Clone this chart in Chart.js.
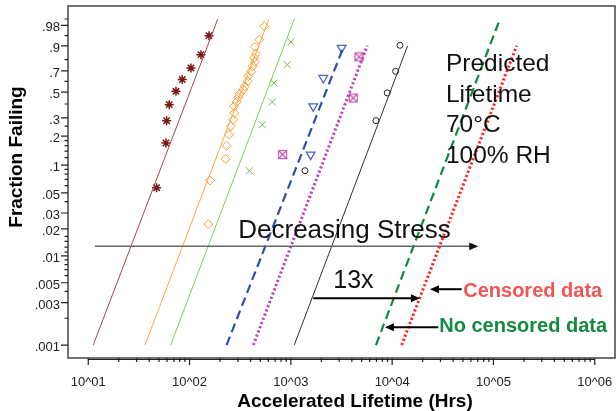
<!DOCTYPE html>
<html><head><meta charset="utf-8">
<script src="https://cdn.jsdelivr.net/npm/chart.js@4.4.1/dist/chart.umd.min.js"></script>
<style>html,body{margin:0;padding:0;background:#fff;}</style>
</head><body>
<canvas id="c" width="616" height="411"></canvas>
<script>
const FONT = "'Liberation Sans', Arial, sans-serif";

// ---- axis tick definitions ----
const yTickFractions = [0.001, 0.003, 0.005, 0.01, 0.02, 0.03, 0.05, 0.1, 0.2, 0.3, 0.5, 0.7, 0.9, 0.98];
const yTickLabels = ['.001', '.003', '.005', '.01', '.02', '.03', '.05', '.1', '.2', '.3', '.5', '.7', '.9', '.98'];
const yMinorFractions = [0.002, 0.004, 0.006, 0.007, 0.008, 0.009, 0.011, 0.0125, 0.0145, 0.0165, 0.04,
  0.06, 0.07, 0.08, 0.09, 0.12, 0.14, 0.16, 0.18, 0.25, 0.4, 0.6, 0.8, 0.95, 0.99];
const xTickExponents = [1, 2, 3, 4, 5, 6];
const xTickLabels = ['10^01', '10^02', '10^03', '10^04', '10^05', '10^06'];

// ---- test data (hours, fraction failing) ----
const s1Hours = [47.3, 58.5, 59.4, 63.0, 73.4, 84.7, 103.2, 129.6, 155.4];
const s1Frac  = [0.057, 0.170, 0.282, 0.395, 0.508, 0.618, 0.727, 0.840, 0.950];
const s2Hours = [153, 159, 227, 232, 245, 256, 270, 276, 276, 292, 303, 315, 339, 352, 375, 380, 404, 420, 442, 435, 452, 442, 488, 546];
const s2Frac  = [0.0226, 0.0683, 0.116, 0.159, 0.206, 0.249, 0.289, 0.333, 0.382, 0.417, 0.455, 0.487, 0.523, 0.554, 0.601, 0.649, 0.696, 0.742, 0.781, 0.815, 0.846, 0.894, 0.933, 0.978];
const s3Hours = [389, 522, 655, 681, 921, 1002];
const s3Frac  = [0.087, 0.259, 0.417, 0.586, 0.757, 0.922];
const s4Hours = [1568, 1664, 2089, 3172];
const s4Frac  = [0.129, 0.382, 0.633, 0.887];
const s5Hours = [830, 4130, 4702];
const s5Frac  = [0.129, 0.450, 0.823];
const s6Hours = [1378, 6921, 8944, 10826, 11940];
const s6Frac  = [0.087, 0.283, 0.494, 0.696, 0.903];

// ---- Weibull fit lines: hours at low fraction and at high fraction ----
const fitLowFrac   = 0.001;
const fitLowHours  = [11.2, 36.3, 65.1, 232, 426, 1081, 6921, 12410];
const fitHighHours = [190, 608, 1081, 3344, 5679, 14220, 115900, 169400];
const fitHighFrac  = [0.99, 0.99, 0.99, 0.9, 0.9, 0.9, 0.99, 0.9];

function weib(f) { return Math.log(-Math.log(1 - f)); }
function pts(hours, fracs) { return hours.map((h, i) => ({ x: Math.log10(h), y: weib(fracs[i]) })); }
function fit(i) { return pts([fitLowHours[i], fitHighHours[i]], [fitLowFrac, fitHighFrac[i]]); }

const fitStyles = [
  { c: '#a04848', w: 1, d: [] },
  { c: '#ffa640', w: 1, d: [] },
  { c: '#7ccc55', w: 1, d: [] },
  { c: '#2f4fb0', w: 2.2, d: [9, 5] },
  { c: '#c040c0', w: 3, d: [2.2, 2.3] },
  { c: '#303030', w: 1, d: [] },
  { c: '#0b8a3e', w: 2.2, d: [9, 5] },
  { c: '#ff2424', w: 3, d: [2.2, 2.3] }
];

function sqx(color) {
  const c = document.createElement('canvas'); c.width = 11; c.height = 11;
  const g = c.getContext('2d'); g.strokeStyle = color; g.lineWidth = 1.1;
  g.strokeRect(1.5, 1.5, 8, 8);
  g.beginPath(); g.moveTo(1.5, 1.5); g.lineTo(9.5, 9.5); g.moveTo(9.5, 1.5); g.lineTo(1.5, 9.5); g.stroke();
  return c;
}

const datasets = fitStyles.map((s, i) => ({
  data: fit(i), showLine: true, borderColor: s.c, borderWidth: s.w, borderDash: s.d,
  pointRadius: 0, fill: false
}));
datasets.push(
  { data: pts(s1Hours, s1Frac), showLine: false, pointStyle: 'star', pointRadius: 4.5, borderColor: '#7b1414', backgroundColor: 'transparent', borderWidth: 1.5 },
  { data: pts(s2Hours, s2Frac), showLine: false, pointStyle: 'rectRot', pointRadius: 4.5, borderColor: '#ff9a30', backgroundColor: 'transparent', borderWidth: 1 },
  { data: pts(s3Hours, s3Frac), showLine: false, pointStyle: 'crossRot', pointRadius: 5, borderColor: '#6cc048', backgroundColor: 'transparent', borderWidth: 1 },
  { data: pts(s4Hours, s4Frac), showLine: false, pointStyle: 'triangle', pointRotation: 180, pointRadius: 5, borderColor: '#4a68c0', backgroundColor: 'transparent', borderWidth: 1.3 },
  { data: pts(s5Hours, s5Frac), showLine: false, pointStyle: sqx('#c050a8'), pointRadius: 5, borderColor: '#c050a8', backgroundColor: 'transparent' },
  { data: pts(s6Hours, s6Frac), showLine: false, pointStyle: 'circle', pointRadius: 3, borderColor: '#222', backgroundColor: 'transparent', borderWidth: 1 }
);

function arrow(ctx, x1, y1, x2, y2, color, lw, headLen, headHalf, headColor) {
  const dir = Math.sign(x2 - x1);
  ctx.strokeStyle = color; ctx.lineWidth = lw;
  ctx.beginPath(); ctx.moveTo(x1, y1); ctx.lineTo(x2 - dir * headLen * 0.8, y2); ctx.stroke();
  ctx.fillStyle = headColor || color;
  ctx.beginPath(); ctx.moveTo(x2, y2); ctx.lineTo(x2 - dir * headLen, y2 - headHalf); ctx.lineTo(x2 - dir * headLen, y2 + headHalf); ctx.closePath(); ctx.fill();
}

const deco = {
  id: 'deco',
  beforeDatasetsDraw(chart) {
    const { ctx, chartArea: a, scales: { x, y } } = chart;
    ctx.save();
    ctx.strokeStyle = '#454545'; ctx.lineWidth = 1.5;
    ctx.strokeRect(a.left, a.top, a.right - a.left, a.bottom - a.top);
    ctx.strokeStyle = '#222'; ctx.lineWidth = 1.2;
    ctx.beginPath();
    ctx.moveTo(x.getPixelForValue(xTickExponents[0]), a.bottom + 1.5);
    ctx.lineTo(x.getPixelForValue(xTickExponents[xTickExponents.length - 1]), a.bottom + 1.5);
    xTickExponents.forEach(e => {
      const p = x.getPixelForValue(e);
      ctx.moveTo(p, a.bottom); ctx.lineTo(p, a.bottom + 7);
      if (e < 6) for (let k = 2; k <= 9; k++) {
        const q = x.getPixelForValue(e + Math.log10(k));
        ctx.moveTo(q, a.bottom); ctx.lineTo(q, a.bottom + 4);
      }
    });
    yTickFractions.forEach(f => {
      const p = y.getPixelForValue(weib(f));
      ctx.moveTo(a.left, p); ctx.lineTo(a.left - 7, p);
    });
    yMinorFractions.forEach(f => {
      const p = y.getPixelForValue(weib(f));
      ctx.moveTo(a.left, p); ctx.lineTo(a.left - 3.5, p);
    });
    ctx.stroke();
    ctx.restore();
  },
  afterDatasetsDraw(chart) {
    const { ctx, scales: { x, y } } = chart;
    const X = h => x.getPixelForValue(Math.log10(h));
    const Y = f => y.getPixelForValue(weib(f));
    ctx.save();
    // Decreasing stress
    arrow(ctx, X(11.65), Y(0.01277), X(70790), Y(0.01277), '#666', 1.5, 9, 3.8, '#111');
    ctx.fillStyle = '#111'; ctx.textBaseline = 'alphabetic'; ctx.textAlign = 'left';
    ctx.font = `26px ${FONT}`;
    ctx.fillText('Decreasing Stress', X(302.6), Y(0.01577));
    // predicted lifetime block
    ctx.font = `24.5px ${FONT}`;
    const px = X(33970), py = Y(0.696);
    ['Predicted', 'Lifetime', '70°C', '100% RH'].forEach((t, i) => ctx.fillText(t, px, py + i * 30.5));
    // 13x
    ctx.font = `25px ${FONT}`;
    ctx.fillText('13x', X(2621), Y(0.004346));
    arrow(ctx, X(1664), Y(0.003357), X(18810), Y(0.003357), '#000', 2, 9, 4, '#000');
    // censored
    arrow(ctx, X(48530), Y(0.004235), X(23620), Y(0.004235), '#000', 2, 9, 4, '#000');
    ctx.font = `bold 20px ${FONT}`;
    ctx.fillStyle = '#f25555';
    ctx.fillText('Censored data', X(50340), Y(0.003499));
    arrow(ctx, X(28520), Y(0.001584), X(8490), Y(0.001584), '#000', 2, 9, 4, '#000');
    ctx.fillStyle = '#14893f';
    ctx.fillText('No censored data', X(29170), Y(0.001413));
    // axis titles
    ctx.fillStyle = '#000';
    ctx.font = `bold 19px ${FONT}`;
    ctx.textAlign = 'center';
    ctx.fillText('Accelerated Lifetime (Hrs)', 355, 407);
    ctx.translate(17, 157); ctx.rotate(-Math.PI / 2);
    ctx.textBaseline = 'middle';
    ctx.fillText('Fraction Failing', 0, 0);
    ctx.restore();
  }
};

function noPad(s) { s.paddingLeft = 0; s.paddingRight = 0; s.paddingTop = 0; s.paddingBottom = 0; }

new Chart(document.getElementById('c'), {
  type: 'scatter',
  data: { datasets },
  options: {
    responsive: false, animation: false,
    layout: { autoPadding: false, padding: { top: 6, right: 1, left: 0, bottom: 0 } },
    plugins: { legend: { display: false }, tooltip: { enabled: false } },
    scales: {
      x: {
        type: 'linear', min: 0.8, max: 6.2,
        grid: { display: false, drawTicks: false }, border: { display: false },
        afterBuildTicks: s => { s.ticks = xTickExponents.map(v => ({ value: v })); },
        afterFit: s => { s.height = 53; noPad(s); },
        ticks: { autoSkip: false, maxRotation: 0, padding: 17, color: '#222',
          font: { family: FONT, size: 13 },
          callback: (v, i) => xTickLabels[i] }
      },
      y: {
        type: 'linear', min: -7.242, max: 1.864,
        grid: { display: false, drawTicks: false }, border: { display: false },
        afterBuildTicks: s => { s.ticks = yTickFractions.map(f => ({ value: weib(f) })); },
        afterFit: s => { s.width = 68; noPad(s); },
        ticks: { autoSkip: false, padding: 8, labelOffset: 2.5, color: '#222',
          font: { family: FONT, size: 13 },
          callback: (v, i) => yTickLabels[i] }
      }
    }
  },
  plugins: [deco]
});
</script>
</body></html>
